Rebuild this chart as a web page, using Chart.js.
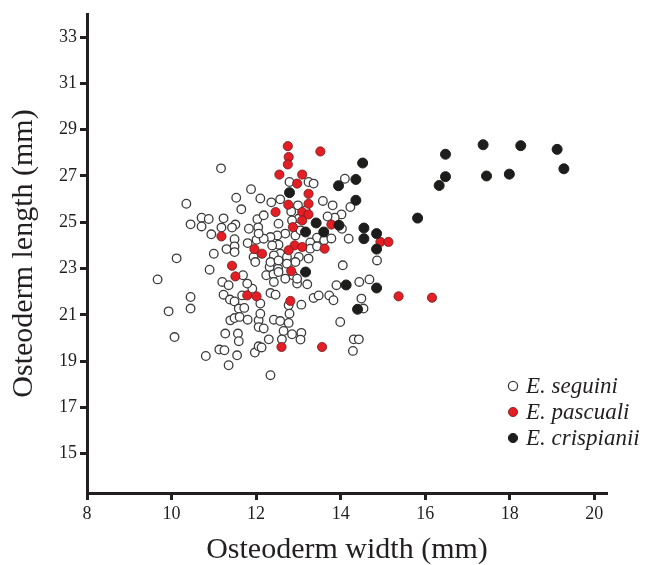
<!DOCTYPE html>
<html>
<head>
<meta charset="utf-8">
<title>Osteoderm width vs length</title>
<script src="https://cdn.jsdelivr.net/npm/chart.js@4.4.0/dist/chart.umd.min.js"></script>
<style>
    html, body { margin: 0; padding: 0; background: #ffffff; }
    #wrap { width: 655px; height: 565px; }
</style>
</head>
<body>
<div id="wrap"><canvas id="osteodermChart" width="655" height="565"></canvas></div>
<script>
// Axis ticks
const xTicks = [8, 10, 12, 14, 16, 18, 20];
const yTicks = [15, 17, 19, 21, 23, 25, 27, 29, 31, 33];

const speciesNames = ['E. seguini', 'E. pascuali', 'E. crispianii'];

// E. seguini (open circles)
const seguiniWidth = [
    11.17, 11.88, 10.35, 11.53, 12.10, 12.36, 12.57, 11.65, 10.71, 10.88,
    10.45, 10.71, 11.23, 11.51, 11.43, 12.03, 12.05, 11.18, 10.94, 11.49,
    11.49, 11.49, 11.30, 11.80, 12.01, 11.00, 10.12, 11.94, 12.79, 13.24,
    13.36, 14.10, 12.99, 13.58, 14.23, 12.83, 14.02, 13.86, 14.19, 10.90,
    11.69, 9.67, 11.20, 11.35, 11.91, 11.67, 11.23, 10.45, 10.45, 9.93,
    11.38, 11.49, 11.59, 11.72, 11.39, 11.49, 11.61, 11.80, 12.06, 12.06,
    10.07, 11.27, 11.57, 11.59, 11.13, 11.25, 10.81, 11.55, 11.97, 12.06,
    11.35, 12.32, 12.52, 12.24, 12.41, 12.87, 12.42, 12.97, 13.21, 14.05,
    13.90, 14.44, 14.68, 12.34, 12.46, 12.10, 12.77, 13.07, 13.36, 13.48,
    13.73, 13.83, 14.49, 14.54, 12.10, 12.79, 12.42, 12.57, 12.77, 13.99,
    12.18, 12.65, 12.85, 13.07, 13.05, 12.30, 12.61, 12.13, 14.31, 14.43,
    14.29, 12.34, 14.86, 13.44, 13.28, 13.61, 13.78, 13.28, 13.44, 13.69,
    12.18, 11.83, 12.53, 12.69, 12.50, 12.34, 12.18, 12.06, 12.93, 13.05,
    12.53, 12.38, 12.57, 12.42, 11.98, 12.34, 12.53, 12.73, 13.01, 13.24,
    12.93, 12.73, 12.53, 12.69, 12.97, 11.79, 13.17, 13.01, 12.85, 13.81,
    14.03
];
const seguiniLength = [
    27.33, 26.43, 25.80, 26.06, 26.03, 25.86, 25.99, 25.56, 25.20, 25.14,
    24.91, 24.82, 25.17, 24.90, 24.77, 25.13, 24.78, 24.77, 24.48, 24.27,
    23.96, 23.71, 23.84, 24.10, 24.24, 23.64, 23.44, 23.50, 26.74, 26.74,
    26.67, 26.88, 25.73, 25.92, 25.66, 25.47, 25.34, 25.20, 24.29, 22.95,
    22.71, 22.53, 22.42, 22.28, 22.13, 21.84, 21.87, 21.77, 21.27, 21.15,
    21.66, 21.58, 21.27, 21.30, 20.76, 20.86, 20.91, 20.79, 20.76, 20.47,
    20.04, 20.19, 20.19, 19.86, 19.50, 19.47, 19.22, 19.25, 19.37, 19.64,
    18.82, 23.07, 23.00, 22.71, 22.75, 22.71, 22.42, 22.35, 22.32, 23.14,
    22.28, 22.42, 22.53, 21.94, 21.87, 21.49, 21.41, 21.44, 21.73, 21.84,
    21.84, 21.63, 21.70, 21.27, 21.05, 21.05, 20.79, 20.73, 20.65, 20.69,
    20.41, 20.30, 20.16, 20.22, 19.93, 19.94, 19.94, 19.59, 19.94, 19.94,
    19.44, 18.39, 23.35, 24.33, 24.13, 24.22, 24.30, 23.86, 23.96, 25.25,
    25.30, 24.72, 24.94, 24.51, 24.43, 24.36, 24.29, 24.51, 24.43, 24.65,
    24.03, 24.00, 23.64, 23.57, 23.28, 23.28, 23.35, 23.50, 23.50, 23.43,
    23.28, 23.21, 22.85, 22.56, 22.56, 22.35, 25.51, 25.16, 25.08, 25.73,
    24.72
];

// E. pascuali (red)
const pascualiWidth = [
    12.75, 12.77, 12.75, 13.52, 12.55, 13.09, 12.97, 13.24, 13.24, 12.76,
    12.46, 13.09, 13.24, 13.09, 13.78, 12.87, 12.91, 13.09, 12.77, 13.62,
    12.14, 11.96, 11.18, 11.43, 11.51, 12.83, 11.79, 12.01, 12.81, 12.60,
    13.56, 15.37, 16.16, 14.94, 15.13
];
const pascualiLength = [
    28.29, 27.82, 27.50, 28.06, 27.06, 27.06, 26.67, 26.23, 25.80, 25.76,
    25.44, 25.44, 25.34, 25.08, 24.90, 24.79, 24.00, 23.93, 23.79, 23.86,
    23.64, 23.84, 24.39, 23.12, 22.66, 22.89, 21.84, 21.80, 21.60, 19.61,
    19.61, 21.80, 21.74, 24.15, 24.15
];

// E. crispianii (black)
const crispianiiWidth = [
    16.48, 17.37, 18.26, 19.12, 19.28, 17.99, 17.45, 16.48, 16.33, 15.82,
    14.52, 14.36, 13.95, 14.36, 13.96, 14.55, 14.85, 14.55, 14.85, 13.42,
    13.17, 13.60, 13.17, 14.13, 14.85, 14.40, 12.79
];
const crispianiiLength = [
    27.94, 28.35, 28.31, 28.15, 27.31, 27.08, 27.00, 26.97, 26.59, 25.18,
    27.56, 26.85, 26.58, 25.95, 24.87, 24.75, 24.51, 24.29, 23.84, 24.97,
    24.58, 24.58, 22.85, 22.29, 22.16, 21.24, 26.28
];

function toPoints(xs, ys) {
    return xs.map((x, i) => ({ x: x, y: ys[i] }));
}

const serif = '"Liberation Serif", "DejaVu Serif", "Times New Roman", serif';
const ink = '#231f20';

// legend drawn inside the plot, lower right
const insideLegend = {
    id: 'insideLegend',
    afterDatasetsDraw(chart) {
        const ctx = chart.ctx;
        const area = chart.chartArea;
        const x0 = area.right - 94;
        const y0 = area.bottom - 107;
        ctx.save();
        ctx.font = 'italic 23px ' + serif;
        ctx.textBaseline = 'middle';
        chart.data.datasets.forEach((ds, i) => {
            const y = y0 + i * 26;
            ctx.beginPath();
            ctx.arc(x0, y, 4.6, 0, Math.PI * 2);
            ctx.fillStyle = ds.backgroundColor;
            ctx.fill();
            ctx.lineWidth = ds.borderWidth;
            ctx.strokeStyle = ds.borderColor;
            ctx.stroke();
            ctx.fillStyle = ink;
            ctx.fillText(ds.label, x0 + 13, y + 1);
        });
        ctx.restore();
    }
};

const ctx = document.getElementById('osteodermChart').getContext('2d');
new Chart(ctx, {
    type: 'scatter',
    data: {
        datasets: [
            {
                label: speciesNames[0],
                data: toPoints(seguiniWidth, seguiniLength),
                backgroundColor: '#ffffff',
                borderColor: '#3c3c3c',
                borderWidth: 1.3,
                pointRadius: 4.3,
                order: 3
            },
            {
                label: speciesNames[1],
                data: toPoints(pascualiWidth, pascualiLength),
                backgroundColor: '#e31e24',
                borderColor: '#6e1b1b',
                borderWidth: 0.8,
                pointRadius: 4.6,
                order: 2
            },
            {
                label: speciesNames[2],
                data: toPoints(crispianiiWidth, crispianiiLength),
                backgroundColor: '#1d1d1b',
                borderColor: '#1d1d1b',
                borderWidth: 1,
                pointRadius: 5,
                order: 1
            }
        ]
    },
    options: {
        responsive: false,
        devicePixelRatio: 1,
        animation: false,
        layout: {
            padding: { left: 0, top: 14, right: 48, bottom: 0 }
        },
        plugins: {
            legend: { display: false },
            tooltip: { enabled: false }
        },
        scales: {
            x: {
                type: 'linear',
                min: 8,
                max: 20.3,
                afterBuildTicks: function(scale) {
                    scale.ticks = xTicks.map(v => ({ value: v }));
                },
                afterFit: function(scale) {
                    scale.height = 72;
                },
                border: { display: true, color: ink, width: 3 },
                grid: {
                    display: true,
                    drawOnChartArea: false,
                    drawTicks: true,
                    tickLength: 7,
                    tickWidth: 3,
                    tickColor: ink
                },
                ticks: {
                    color: ink,
                    font: { family: serif, size: 18 },
                    padding: 3,
                    maxRotation: 0,
                    autoSkip: false
                },
                title: {
                    display: true,
                    text: 'Osteoderm width (mm)',
                    color: ink,
                    font: { family: serif, size: 30, lineHeight: 1 },
                    padding: { top: 0, bottom: 0 }
                }
            },
            y: {
                type: 'linear',
                min: 13.3,
                max: 34,
                afterBuildTicks: function(scale) {
                    scale.ticks = yTicks.map(v => ({ value: v }));
                },
                afterFit: function(scale) {
                    scale.width = 87;
                },
                border: { display: true, color: ink, width: 3 },
                grid: {
                    display: true,
                    drawOnChartArea: false,
                    drawTicks: true,
                    tickLength: 7,
                    tickWidth: 3,
                    tickColor: ink
                },
                ticks: {
                    color: ink,
                    font: { family: serif, size: 18 },
                    padding: 3,
                    autoSkip: false
                },
                title: {
                    display: true,
                    text: 'Osteoderm length (mm)',
                    color: ink,
                    font: { family: serif, size: 30, lineHeight: 1 },
                    padding: { top: 9, bottom: 0 }
                }
            }
        }
    },
    plugins: [insideLegend]
});
</script>
</body>
</html>
